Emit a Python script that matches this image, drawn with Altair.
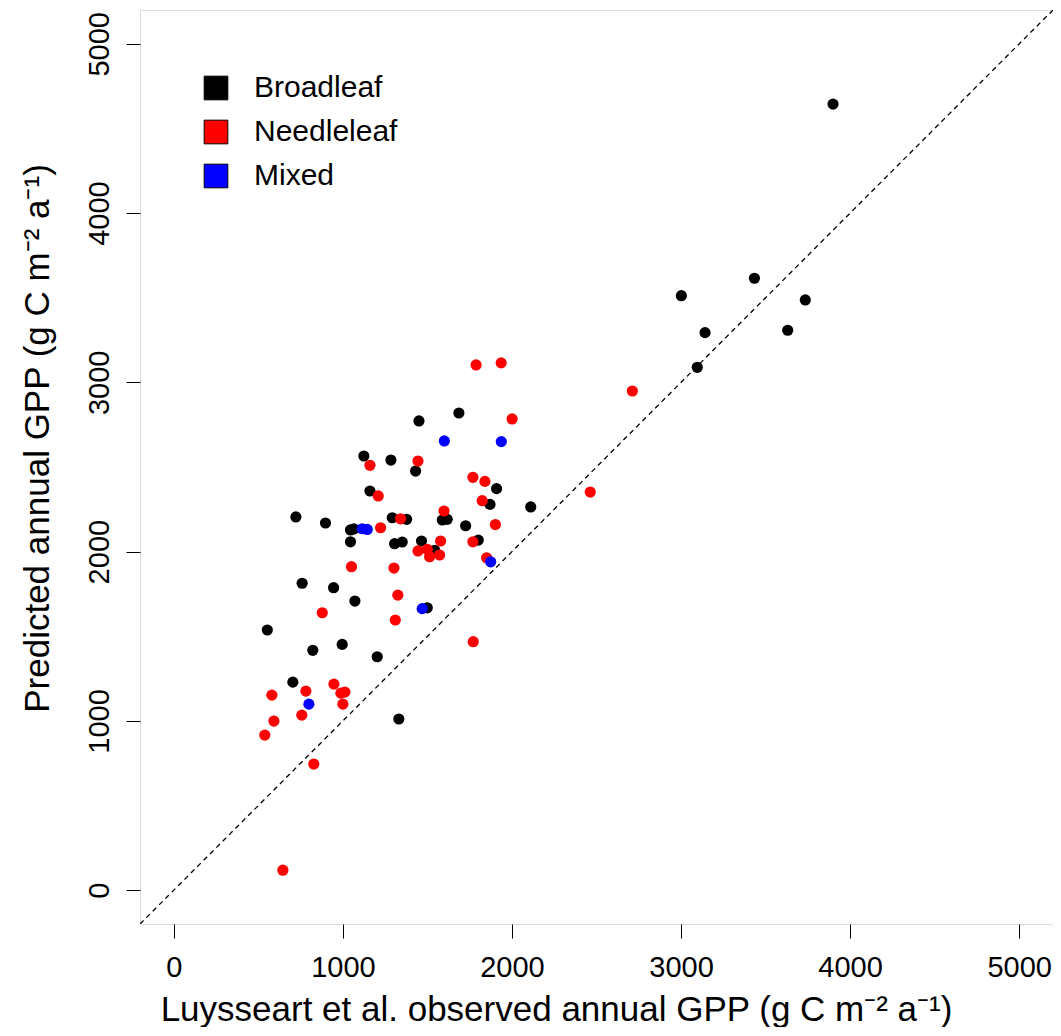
import altair as alt
import pandas as pd

# ---- data ----
broad_x = [3899, 3434, 3002, 3735, 3142, 3631, 3096, 2111, 1686, 1450, 1124, 1284, 1430, 1909,
           1160, 1870, 1292, 1377, 1588, 1617, 722, 897, 1045, 1065, 1045, 1306, 1351, 1465,
           1726, 1801, 1543, 759, 945, 1071, 1499, 822, 996, 1203, 553, 704, 1331]
broad_y = [4644, 3615, 3512, 3487, 3294, 3308, 3089, 2264, 2819, 2772, 2565, 2541, 2476, 2372,
           2358, 2279, 2200, 2191, 2187, 2191, 2205, 2169, 2128, 2134, 2058, 2047, 2057, 2063,
           2153, 2068, 2008, 1813, 1787, 1708, 1668, 1417, 1452, 1379, 1537, 1229, 1011]

needle_x = [2712, 2463, 1788, 1936, 2001, 1160, 1444, 1769, 1840, 1209, 1824, 1598, 1341, 1902,
            1223, 1578, 1769, 1444, 1499, 1513, 1572, 1850, 1051, 1302, 1325, 878, 1310, 1771,
            580, 592, 538, 781, 757, 947, 988, 1012, 1000, 828, 645]
needle_y = [2949, 2352, 3103, 3115, 2784, 2510, 2535, 2439, 2415, 2329, 2301, 2240, 2194, 2160,
            2141, 2063, 2058, 2004, 2014, 1970, 1980, 1964, 1911, 1903, 1743, 1639, 1596, 1468,
            1152, 999, 916, 1176, 1034, 1217, 1164, 1170, 1099, 745, 118]

mixed_x = [1600, 1937, 1114, 1144, 1874, 1469, 799]
mixed_y = [2654, 2650, 2135, 2131, 1940, 1663, 1099]

categories = ["Broadleaf", "Needleleaf", "Mixed"]
cat_colors = ["#000000", "#ff0000", "#0000ff"]
tick_values = [0, 1000, 2000, 3000, 4000, 5000]
axis_domain = [-200, 5200]
one_to_one = [-200, 5200]

x_title = "Luysseart et al. observed annual GPP (g C m\u207b\u00b2 a\u207b\u00b9)"
y_title = "Predicted annual GPP (g C m\u207b\u00b2 a\u207b\u00b9)"

rows = []
for xs, ys, c in [(broad_x, broad_y, "Broadleaf"), (needle_x, needle_y, "Needleleaf"),
                  (mixed_x, mixed_y, "Mixed")]:
    for a, b in zip(xs, ys):
        rows.append({"obs": a, "pred": b, "type": c})
df = pd.DataFrame(rows)
line_df = pd.DataFrame({"obs": one_to_one, "pred": one_to_one})

FONT = "Liberation Sans, Arial, Helvetica"

xscale = alt.Scale(domain=axis_domain, nice=False, zero=False)
yscale = alt.Scale(domain=axis_domain, nice=False, zero=False)

x_axis = alt.Axis(values=tick_values, tickSize=14, tickColor="black", tickWidth=1,
                  domain=False, grid=False, labelFontSize=29, labelFont=FONT,
                  labelColor="black", labelPadding=15, labelFlush=False, labelOverlap=False,
                  labelBaseline="top", format="d",
                  title=x_title, titleFont=FONT, titleFontSize=35, titleFontWeight="normal",
                  titleColor="black", titleX=416, titleY=96, titleAlign="center",
                  titleBaseline="alphabetic")
y_axis = alt.Axis(values=tick_values, tickSize=14, tickColor="black", tickWidth=1,
                  domain=False, grid=False, labelFontSize=29, labelFont=FONT,
                  labelColor="black", labelPadding=18, labelFlush=False, labelOverlap=False,
                  labelAngle=270, labelAlign="center", labelBaseline="alphabetic", format="d",
                  title=y_title, titleFont=FONT, titleFontSize=35, titleFontWeight="normal",
                  titleColor="black", titleX=-92, titleY=428, titleAlign="center",
                  titleAngle=270, titleBaseline="alphabetic")

points = alt.Chart(df).mark_circle(size=125, opacity=1).encode(
    x=alt.X("obs:Q", scale=xscale, axis=x_axis),
    y=alt.Y("pred:Q", scale=yscale, axis=y_axis),
    color=alt.Color("type:N",
                    scale=alt.Scale(domain=categories, range=cat_colors),
                    legend=alt.Legend(orient="none", legendX=61, legendY=63, title=None,
                                      symbolType="square", symbolSize=560,
                                      symbolStrokeColor="black", symbolStrokeWidth=1,
                                      labelFontSize=30, labelFont=FONT, labelColor="black",
                                      labelOffset=23, rowPadding=14, padding=0)),
)

line = alt.Chart(line_df).mark_line(color="black", strokeWidth=1.3, strokeDash=[5, 4],
                                    clip=True).encode(
    x=alt.X("obs:Q", scale=xscale),
    y=alt.Y("pred:Q", scale=yscale),
)

chart = alt.layer(points, line).properties(
    width=913, height=914,
    padding={"left": 132, "top": 2, "right": 0, "bottom": 103},
    autosize="none",
).configure_view(stroke="#222222", strokeWidth=2).configure(background="white")

chart.save("out.html", embed_options={"renderer": "svg", "actions": False})
